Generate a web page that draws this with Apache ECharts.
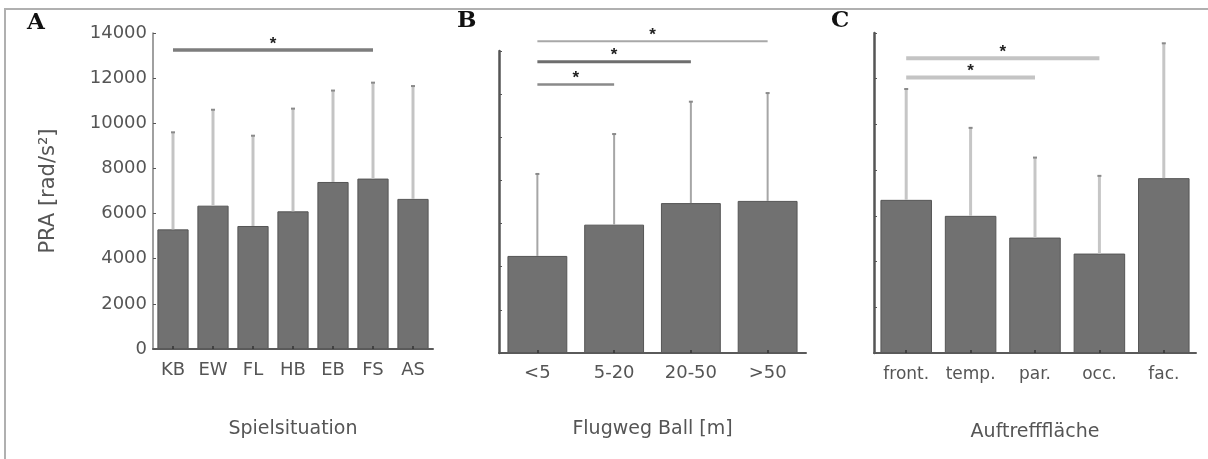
<!DOCTYPE html>
<html>
<head>
<meta charset="utf-8">
<script src="https://cdn.jsdelivr.net/npm/echarts@6/dist/echarts.min.js"></script>
<style>
  html, body { margin: 0; padding: 0; background: #ffffff; }
  #chart { width: 1208px; height: 459px; }
</style>
</head>
<body>
<div id="chart"></div>
<script>
// Panel A: game situation
const catsA = ['KB', 'EW', 'FL', 'HB', 'EB', 'FS', 'AS'];
const meanA = [5300, 6350, 5450, 6100, 7400, 7550, 6650];
const sdA   = [4300, 4250, 4000, 4550, 4050, 4250, 5000];
const sigA  = [[0, 5, 13250]];            // [from, to, level]

// Panel B: ball flight distance
const catsB = ['<5', '5-20', '20-50', '>50'];
const meanB = [4500, 5950, 6950, 7050];
const sdB   = [3800, 4200, 4700, 5000];
const sigB  = [[0, 1, 12450], [0, 2, 13500], [0, 3, 14450]];

// Panel C: impact area
const catsC = ['front.', 'temp.', 'par.', 'occ.', 'fac.'];
const meanC = [6700, 6000, 5050, 4350, 7650];
const sdC   = [4850, 3850, 3500, 3400, 5900];
const sigC  = [[0, 2, 12050], [0, 3, 12900]];

// shared value scale
const yMin = 0, yMax = 14000, yStep = 2000;

const FONT = 'DejaVu Sans';
const TXT = '#555555';

function errorBar(color, width) {
  return function (params, api) {
    const x = api.value(0), m = api.value(1), s = api.value(2);
    const p0 = api.coord([x, m]);
    const p1 = api.coord([x, m + s]);
    return {
      type: 'group',
      children: [
        { type: 'line', shape: { x1: p0[0], y1: p0[1], x2: p1[0], y2: p1[1] },
          style: { stroke: color, lineWidth: width } },
        { type: 'line', shape: { x1: p1[0] - 2, y1: p1[1], x2: p1[0] + 2, y2: p1[1] },
          style: { stroke: '#8a8a8a', lineWidth: 2 } }
      ]
    };
  };
}

function sigBracket(styles) {
  return function (params, api) {
    const a = api.coord([api.value(0), api.value(2)]);
    const b = api.coord([api.value(1), api.value(2)]);
    const st = styles[params.dataIndex];
    return {
      type: 'group',
      children: [
        { type: 'line', shape: { x1: a[0], y1: a[1], x2: b[0], y2: b[1] },
          style: { stroke: st.color, lineWidth: st.width } },
        { type: 'text', x: (a[0] + b[0]) / 2, y: a[1] - 6,
          style: { text: '*', fill: '#222', font: 'bold 17px "Liberation Sans"',
                   align: 'center', verticalAlign: 'middle' } }
      ]
    };
  };
}

function xAxisOf(idx, cats, name, gap, margin, size) {
  return {
    type: 'category', gridIndex: idx, data: cats, z: 5,
    axisLine: { lineStyle: { color: '#5a5a5a', width: 2 } },
    axisTick: { show: true, inside: true, alignWithLabel: true, length: 3,
                lineStyle: { color: '#333', width: 1.5 } },
    axisLabel: { color: TXT, fontFamily: FONT, fontSize: size, margin: margin,
                 interval: 0, hideOverlap: false },
    name: name, nameLocation: 'middle', nameGap: gap,
    nameTextStyle: { color: TXT, fontFamily: FONT, fontSize: 19 }
  };
}

function yAxisOf(idx, labels, lineColor, lineWidth) {
  return {
    type: 'value', gridIndex: idx, min: yMin, max: yMax, interval: yStep, z: 5,
    axisLine: { show: true, lineStyle: { color: lineColor, width: lineWidth } },
    axisTick: { show: true, inside: true, length: 3, lineStyle: { color: '#555', width: 1 } },
    axisLabel: { show: labels, color: TXT, fontFamily: FONT, fontSize: 18, margin: 6,
                 formatter: v => String(v) },
    splitLine: { show: false }
  };
}

const barStyle = { color: '#717171', borderColor: '#555555', borderWidth: 1 };

function barSeries(idx, means, gap) {
  return { type: 'bar', xAxisIndex: idx, yAxisIndex: idx, data: means,
           barCategoryGap: gap, itemStyle: barStyle, z: 2, silent: true };
}

function errSeries(idx, means, sds, color, width) {
  return { type: 'custom', xAxisIndex: idx, yAxisIndex: idx, z: 3, silent: true,
           encode: { x: 0, y: 1 },
           data: means.map((m, i) => [i, m, sds[i]]),
           renderItem: errorBar(color, width) };
}

function sigSeries(idx, sig, styles) {
  return { type: 'custom', xAxisIndex: idx, yAxisIndex: idx, z: 4, silent: true,
           clip: false, encode: { x: [0, 1], y: 2 },
           data: sig, renderItem: sigBracket(styles) };
}

const chart = echarts.init(document.getElementById('chart'), null, { renderer: 'canvas' });

const yA = yAxisOf(0, true, '#808080', 1.5);
yA.name = 'PRA [rad/s²]';
yA.nameLocation = 'middle';
yA.nameGap = 94;
yA.nameTextStyle = { color: TXT, fontFamily: FONT, fontSize: 21 };

chart.setOption({
  animation: false,
  backgroundColor: '#ffffff',
  grid: [
    { left: 153, top: 33, width: 280, height: 316 },
    { left: 499, top: 51, width: 307, height: 302 },
    { left: 874, top: 33, width: 322, height: 320 }
  ],
  xAxis: [
    xAxisOf(0, catsA, 'Spielsituation', 71, 12, 18),
    xAxisOf(1, catsB, 'Flugweg Ball [m]', 67, 11, 18),
    xAxisOf(2, catsC, 'Auftrefffläche', 70, 13, 17)
  ],
  yAxis: [
    yA,
    yAxisOf(1, false, '#555555', 2.5),
    yAxisOf(2, false, '#555555', 2.5)
  ],
  series: [
    barSeries(0, meanA, '22%'),
    barSeries(1, meanB, '22%'),
    barSeries(2, meanC, '20%'),
    errSeries(0, meanA, sdA, '#c4c4c4', 3),
    errSeries(1, meanB, sdB, '#a6a6a6', 2),
    errSeries(2, meanC, sdC, '#c6c6c6', 3),
    sigSeries(0, sigA, [{ color: '#7d7d7d', width: 3.5 }]),
    sigSeries(1, sigB, [
      { color: '#8a8a8a', width: 2.5 },
      { color: '#6e6e6e', width: 3 },
      { color: '#a8a8a8', width: 2 }
    ]),
    sigSeries(2, sigC, [
      { color: '#c4c4c4', width: 4 },
      { color: '#c4c4c4', width: 4 }
    ])
  ],
  graphic: [
    { type: 'polyline', silent: true,
      shape: { points: [[5, 459], [5, 9], [1208, 9]] },
      style: { stroke: '#b0b0b0', lineWidth: 2, fill: null } },
    { type: 'text', left: 27, top: 12,
      style: { text: 'A', font: 'bold 23px "DejaVu Serif"', fill: '#111' } },
    { type: 'text', left: 457, top: 10,
      style: { text: 'B', font: 'bold 23px "DejaVu Serif"', fill: '#111' } },
    { type: 'text', left: 831, top: 10,
      style: { text: 'C', font: 'bold 23px "DejaVu Serif"', fill: '#111' } }
  ]
});
</script>
</body>
</html>
